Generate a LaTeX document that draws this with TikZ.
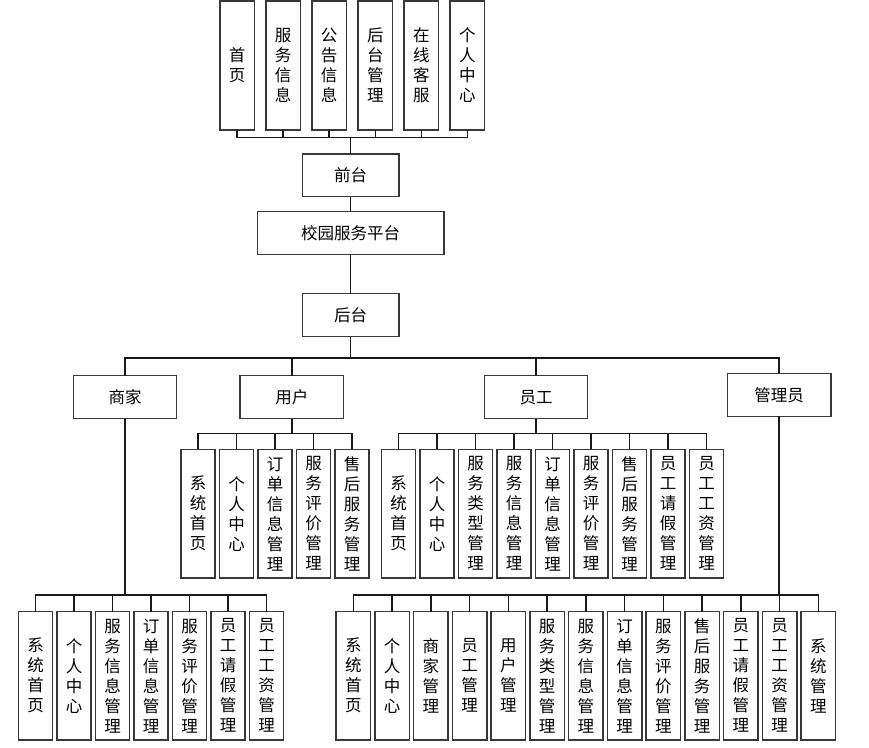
\documentclass[tikz,border=0pt]{standalone}
\usepackage{fontspec}
\newfontfamily\cjk{Noto Sans CJK SC}
\begin{document}
\begin{tikzpicture}[x=1pt,y=-1pt,
  box/.style={draw=black!78, line width=1.5pt, inner sep=0pt, fill=white,
    font=\cjk\fontsize{16.5}{20}\selectfont, align=center},
  hbox/.style={box, minimum width=103.4pt, minimum height=43pt},
  vbox/.style={box, minimum width=34.4pt, minimum height=128.7pt},
  conn/.style={draw=black!90, line width=1.5pt, line cap=rect}]
\useasboundingbox (0,0) rectangle (869,747);
% top row
\foreach \t [count=\i] in {首\\页, 服\\务\\信\\息, 公\\告\\信\\息, 后\\台\\管\\理, 在\\线\\客\\服, 个\\人\\中\\心}
  \node[vbox, minimum height=129pt] (t\i) at ({237.1+46.06*(\i-1)}, 65.5) {\t};
\node[box, minimum width=96.7pt, minimum height=42.7pt] (qt) at (350.7,175.3) {前台};
\node[box, minimum width=186.7pt, minimum height=42.6pt] (xy) at (350.7,233) {校园服务平台};
\node[box, minimum width=96.7pt, minimum height=43pt] (ht) at (350.7,315.2) {后台};
\coordinate (tb) at (0,137.7);
\foreach \i in {1,...,6} \draw[conn] (t\i.south) -- (t\i.south |- tb);
\draw[conn] (t1.south |- tb) -- (t6.south |- tb);
\draw[conn] (qt.north) -- (qt.north |- tb);
\draw[conn] (qt.south) -- (xy.north);
\draw[conn] (xy.south) -- (ht.north);
% second level
\node[hbox] (sj) at (125,397.2) {商家};
\node[hbox] (yh) at (291.8,397.2) {用户};
\node[hbox] (yg) at (536,397.2) {员工};
\node[hbox] (gly) at (779.2,394.8) {管理员};
\coordinate (b2) at (0,358);
\draw[conn] (ht.south) -- (ht.south |- b2);
\draw[conn] (sj.north |- b2) -- (gly.north |- b2);
\foreach \n in {sj,yh,yg,gly} \draw[conn] (\n.north) -- (\n.north |- b2);
% user children
\foreach \t [count=\i] in {系\\统\\首\\页, 个\\人\\中\\心, 订\\单\\信\\息\\管\\理, 服\\务\\评\\价\\管\\理, 售\\后\\服\\务\\管\\理}
  \node[vbox] (u\i) at ({198+38.5*(\i-1)}, 513.65) {\t};
% staff children
\foreach \t [count=\i] in {系\\统\\首\\页, 个\\人\\中\\心, 服\\务\\类\\型\\管\\理, 服\\务\\信\\息\\管\\理, 订\\单\\信\\息\\管\\理, 服\\务\\评\\价\\管\\理, 售\\后\\服\\务\\管\\理, 员\\工\\请\\假\\管\\理, 员\\工\\工\\资\\管\\理}
  \node[vbox] (e\i) at ({398.5+38.5*(\i-1)}, 513.65) {\t};
\coordinate (b3) at (0,433.7);
\draw[conn] (yh.south) -- (yh.south |- b3);
\draw[conn] (u1.north |- b3) -- (u5.north |- b3);
\foreach \i in {1,...,5} \draw[conn] (u\i.north) -- (u\i.north |- b3);
\draw[conn] (yg.south) -- (yg.south |- b3);
\draw[conn] (e1.north |- b3) -- (e9.north |- b3);
\foreach \i in {1,...,9} \draw[conn] (e\i.north) -- (e\i.north |- b3);
% merchant children
\foreach \t [count=\i] in {系\\统\\首\\页, 个\\人\\中\\心, 服\\务\\信\\息\\管\\理, 订\\单\\信\\息\\管\\理, 服\\务\\评\\价\\管\\理, 员\\工\\请\\假\\管\\理, 员\\工\\工\\资\\管\\理}
  \node[vbox, minimum height=128.5pt] (s\i) at ({35.5+38.5*(\i-1)}, 675.75) {\t};
% admin children
\foreach \t [count=\i] in {系\\统\\首\\页, 个\\人\\中\\心, 商\\家\\管\\理, 员\\工\\管\\理, 用\\户\\管\\理, 服\\务\\类\\型\\管\\理, 服\\务\\信\\息\\管\\理, 订\\单\\信\\息\\管\\理, 服\\务\\评\\价\\管\\理, 售\\后\\服\\务\\管\\理, 员\\工\\请\\假\\管\\理, 员\\工\\工\\资\\管\\理, 系\\统\\管\\理}
  \node[vbox, minimum height=128.5pt] (g\i) at ({353.4+38.75*(\i-1)}, 675.75) {\t};
\coordinate (b4) at (0,595);
\draw[conn] (sj.south) -- (sj.south |- b4);
\draw[conn] (s1.north |- b4) -- (s7.north |- b4);
\foreach \i in {1,...,7} \draw[conn] (s\i.north) -- (s\i.north |- b4);
\draw[conn] (gly.south) -- (gly.south |- b4);
\draw[conn] (g1.north |- b4) -- (g13.north |- b4);
\foreach \i in {1,...,13} \draw[conn] (g\i.north) -- (g\i.north |- b4);
\end{tikzpicture}
\end{document}
